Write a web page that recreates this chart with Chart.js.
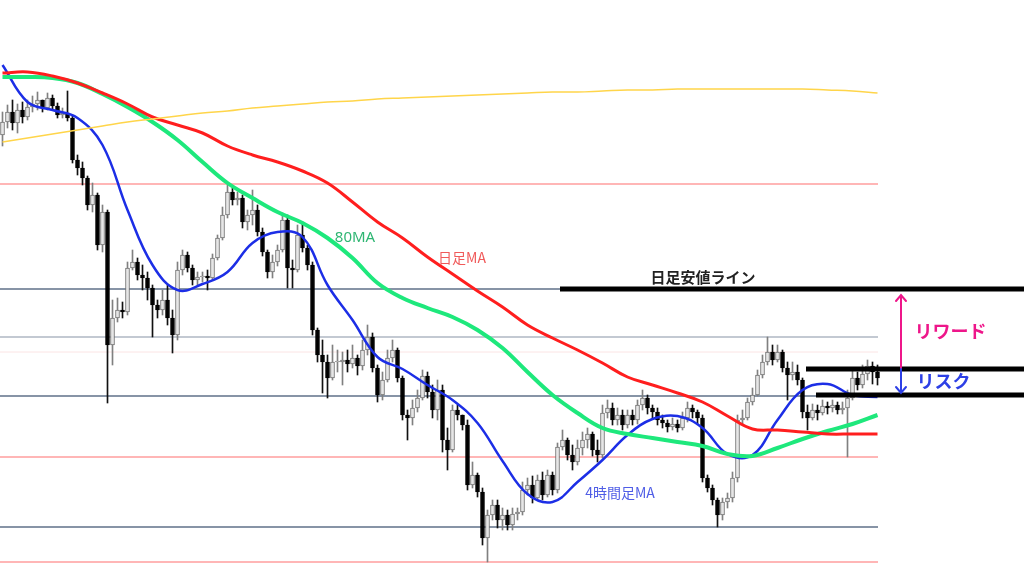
<!DOCTYPE html>
<html>
<head>
<meta charset="utf-8">
<script src="https://cdn.jsdelivr.net/npm/chart.js"></script>
<style>
  html, body { margin: 0; padding: 0; background: #fff; }
  #wrap { width: 1024px; height: 576px; }
</style>
</head>
<body>
<div id="wrap"><canvas id="chart" width="1024" height="576"></canvas></div>
<script>
// 4時間足 candles (open = previous close)
const firstOpen = 110.65;
const closes = [
  110.78, 110.88, 110.77, 110.90, 110.83, 110.93, 110.96, 111.00, 110.92, 111.02,
  110.94, 110.85, 110.87, 110.82, 110.40, 110.32, 110.22, 109.95, 110.05, 109.55,
  109.88, 108.55, 108.82, 108.90, 108.88, 109.32, 109.38, 109.25, 109.22, 109.12,
  108.95, 108.90, 109.00, 108.82, 108.65, 109.30, 109.45, 109.32, 109.20, 109.23,
  109.24, 109.22, 109.42, 109.62, 109.85, 110.08, 110.00, 110.02, 109.78, 109.85,
  109.90, 109.68, 109.48, 109.28, 109.38, 109.50, 109.80, 109.32, 109.30, 109.65,
  109.52, 109.35, 108.70, 108.45, 108.38, 108.22, 108.38, 108.38, 108.40, 108.36,
  108.42, 108.34, 108.50, 108.63, 108.32, 108.05, 108.20, 108.42, 108.50, 108.22,
  107.85, 107.82, 107.92, 108.02, 108.24, 108.08, 107.90, 108.10, 107.60, 107.50,
  107.90, 107.85, 107.75, 107.15, 107.25, 107.08, 106.62, 106.85, 106.95, 106.80,
  106.85, 106.75, 106.86, 106.88, 107.10, 107.15, 107.02, 107.20, 107.05, 107.25,
  107.10, 107.53, 107.60, 107.45, 107.38, 107.52, 107.60, 107.66, 107.50, 107.45,
  107.87, 107.92, 107.80, 107.85, 107.75, 107.85, 107.80, 107.95, 108.02, 107.92,
  107.88, 107.80, 107.77, 107.73, 107.76, 107.72, 107.82, 107.92, 107.88, 107.82,
  107.22, 107.12, 107.00, 106.85, 106.98, 107.02, 107.22, 107.80, 107.82, 107.98,
  108.05, 108.25, 108.38, 108.48, 108.40, 108.48, 108.32, 108.25, 108.28, 108.20,
  107.88, 107.82, 107.90, 107.87, 107.94, 107.92, 107.95, 107.90, 107.92, 108.02,
  108.22, 108.15, 108.26, 108.34, 108.28, 108.22
];
const highs = [
  110.88, 110.95, 111.00, 110.96, 110.98, 111.00, 111.04, 111.08, 111.00, 111.07,
  111.05, 110.97, 110.92, 111.09, 110.85, 110.45, 110.38, 110.24, 110.17, 110.07,
  109.95, 109.90, 109.00, 109.02, 108.98, 109.38, 109.50, 109.42, 109.35, 109.28,
  109.15, 109.00, 109.10, 109.15, 108.90, 109.38, 109.50, 109.48, 109.35, 109.28,
  109.28, 109.30, 109.46, 109.65, 109.93, 110.15, 110.12, 110.08, 110.05, 109.90,
  110.10, 109.95, 109.72, 109.50, 109.45, 109.55, 109.87, 109.85, 109.40, 109.75,
  109.78, 109.55, 109.38, 108.72, 108.60, 108.45, 108.55, 108.50, 108.48, 108.50,
  108.55, 108.45, 108.60, 108.75, 108.67, 108.35, 108.28, 108.50, 108.60, 108.52,
  108.24, 107.90, 108.00, 108.10, 108.30, 108.28, 108.15, 108.20, 108.15, 107.72,
  107.95, 107.95, 107.85, 107.80, 107.38, 107.27, 107.12, 106.90, 107.00, 107.00,
  106.92, 106.90, 106.92, 106.92, 107.18, 107.22, 107.24, 107.25, 107.28, 107.30,
  107.28, 107.57, 107.70, 107.62, 107.55, 107.60, 107.68, 107.72, 107.68, 107.60,
  107.95, 108.00, 107.97, 107.92, 107.90, 107.90, 107.90, 108.00, 108.10, 108.05,
  107.95, 107.92, 107.85, 107.80, 107.82, 107.80, 107.88, 107.98, 107.95, 107.90,
  107.85, 107.25, 107.15, 107.02, 107.02, 107.07, 107.28, 107.85, 107.90, 108.02,
  108.12, 108.30, 108.45, 108.63, 108.55, 108.55, 108.50, 108.38, 108.38, 108.35,
  108.22, 107.95, 107.96, 107.95, 108.00, 107.98, 108.00, 107.98, 107.98, 108.10,
  108.30, 108.28, 108.35, 108.40, 108.38, 108.35
];
const lows = [
  110.54, 110.72, 110.70, 110.67, 110.77, 110.80, 110.88, 110.90, 110.88, 110.90,
  110.90, 110.82, 110.82, 110.79, 110.37, 110.25, 110.15, 109.90, 109.88, 109.50,
  109.48, 107.97, 108.35, 108.78, 108.82, 108.85, 109.30, 109.20, 109.10, 109.00,
  108.63, 108.82, 108.85, 108.75, 108.47, 108.60, 109.25, 109.28, 109.15, 109.15,
  109.18, 109.10, 109.20, 109.40, 109.60, 109.82, 109.95, 109.95, 109.72, 109.70,
  109.75, 109.64, 109.44, 109.22, 109.22, 109.34, 109.48, 109.12, 109.12, 109.28,
  109.48, 109.30, 108.65, 108.38, 108.07, 108.02, 108.20, 108.28, 108.15, 108.28,
  108.32, 108.25, 108.30, 108.45, 108.28, 107.98, 108.00, 108.18, 108.38, 108.18,
  107.80, 107.60, 107.75, 107.88, 108.00, 108.02, 107.82, 107.80, 107.48, 107.30,
  107.48, 107.80, 107.70, 107.10, 107.12, 107.03, 106.55, 106.38, 106.80, 106.72,
  106.70, 106.70, 106.70, 106.80, 106.85, 107.05, 106.97, 107.00, 107.00, 107.03,
  107.05, 107.07, 107.50, 107.40, 107.30, 107.35, 107.45, 107.52, 107.44, 107.38,
  107.42, 107.82, 107.75, 107.75, 107.70, 107.72, 107.75, 107.76, 107.90, 107.86,
  107.82, 107.75, 107.72, 107.68, 107.70, 107.68, 107.70, 107.78, 107.82, 107.76,
  107.18, 107.08, 106.95, 106.73, 106.80, 106.92, 106.98, 107.18, 107.75, 107.80,
  107.95, 108.04, 108.22, 108.35, 108.35, 108.38, 108.28, 108.00, 108.20, 108.15,
  107.82, 107.70, 107.80, 107.80, 107.85, 107.86, 107.88, 107.86, 107.86, 107.43,
  108.00, 108.10, 108.12, 108.20, 108.16, 108.15
];

// moving averages, read every 5 candles
const maIndex = [
  0, 5, 10, 15, 20, 25, 30, 35, 40, 45, 50, 55, 60, 65, 70, 75, 80, 85,
  90, 95, 100, 105, 110, 115, 120, 125, 130, 135, 140, 145, 150, 155, 160, 165, 170, 175
];
const dailyMa = [
  111.27, 111.28, 111.24, 111.17, 111.07, 110.96, 110.83, 110.75, 110.67, 110.54, 110.45, 110.38,
  110.29, 110.17, 109.98, 109.78, 109.62, 109.43, 109.26, 109.09, 108.93, 108.75, 108.62, 108.50,
  108.37, 108.23, 108.15, 108.07, 107.98, 107.84, 107.71, 107.70, 107.68, 107.66, 107.66, 107.66
];
const ma80 = [
  111.23, 111.23, 111.22, 111.17, 111.06, 110.93, 110.78, 110.60, 110.38, 110.17, 110.02, 109.88,
  109.77, 109.62, 109.42, 109.17, 109.02, 108.92, 108.83, 108.70, 108.52, 108.28, 108.05, 107.87,
  107.72, 107.66, 107.62, 107.58, 107.54, 107.46, 107.44, 107.52, 107.61, 107.69, 107.76, 107.85
];
const ma4h = [
  111.35, 110.98, 110.90, 110.82, 110.55, 109.90, 109.35, 109.10, 109.16, 109.28, 109.57, 109.68,
  109.63, 109.15, 108.80, 108.43, 108.31, 108.15, 108.00, 107.77, 107.39, 107.06, 106.98, 107.18,
  107.40, 107.65, 107.81, 107.84, 107.72, 107.46, 107.45, 107.80, 108.10, 108.16, 108.05, 108.03
];
const longMa = [
  110.58, 110.62, 110.66, 110.70, 110.74, 110.78, 110.81, 110.84, 110.87, 110.89, 110.92, 110.94,
  110.96, 110.98, 110.99, 111.01, 111.02, 111.03, 111.04, 111.05, 111.06, 111.07, 111.08, 111.08,
  111.09, 111.10, 111.10, 111.11, 111.11, 111.11, 111.11, 111.11, 111.11, 111.10, 111.09, 111.07
];

// horizontal levels
const redLevels = [110.16, 107.43, 106.38];
const grayLevels = [109.11, 108.63, 108.04, 106.73];
const faintLevels = [108.48];
const dailyLow = 109.11;
const entryLevel = 108.31;
const stopLevel = 108.05;
const rewardTop = 109.05;

const labels = [
  { text: '80MA', x: 70.5, y: 109.62, color: '#2fb673', font: '15px "Noto Sans"' },
  { text: '日足MA', x: 91.9, y: 109.42, color: '#f05a5a', font: '14px "Noto Sans CJK JP"' },
  { text: '4時間足MA', x: 123.5, y: 107.07, color: '#4f5de6', font: '14px "Noto Sans CJK JP"' },
  { text: '日足安値ライン', x: 140.1, y: 109.23, color: '#222', font: 'bold 15px "Noto Sans CJK JP"' },
  { text: 'リワード', x: 189.6, y: 108.69, color: '#ee168a', font: 'bold 18px "Noto Sans CJK JP"' },
  { text: 'リスク', x: 188.2, y: 108.19, color: '#2d40e6', font: 'bold 18px "Noto Sans CJK JP"' }
];

const lastX = 175.1;
const rightX = 205;
const arrowX = 179.7;

const opens = closes.map((c, i) => (i === 0 ? firstOpen : closes[i - 1]));
const up = closes.map((c, i) => c >= opens[i]);

const hLine = (level, color, width, from, order) => ({
  type: 'line',
  data: [{ x: from, y: level }, { x: lastX, y: level }],
  borderColor: color,
  borderWidth: width,
  pointRadius: 0,
  order: order
});

const maLine = (values, color, width) => ({
  type: 'line',
  data: maIndex.map((x, i) => ({ x: x, y: values[i] })),
  borderColor: color,
  borderWidth: width,
  pointRadius: 0,
  tension: 0.4,
  order: 1
});

const datasets = [];
redLevels.forEach(l => datasets.push(hLine(l, '#ff6f6f', 1.2, -0.5, 20)));
grayLevels.forEach(l => datasets.push(hLine(l, '#8794a6', l === 108.63 ? 1.2 : 2, -0.5, 20)));
faintLevels.forEach(l => datasets.push(hLine(l, '#fbe4e4', 1, -0.5, 20)));

datasets.push({
  type: 'bar',
  data: closes.map((c, i) => ({ x: i, y: [lows[i], highs[i]] })),
  backgroundColor: up.map(u => (u ? '#808080' : '#111')),
  barThickness: 1,
  grouped: false,
  order: 10
});
datasets.push({
  type: 'bar',
  data: closes.map((c, i) => ({ x: i, y: [Math.min(opens[i], c), Math.max(opens[i], c)] })),
  backgroundColor: up.map(u => (u ? '#e6e6e6' : '#000')),
  borderColor: up.map(u => (u ? '#707070' : '#000')),
  borderWidth: 1,
  borderSkipped: false,
  barThickness: 4,
  minBarLength: 1,
  grouped: false,
  order: 9
});

datasets.push(maLine(longMa, '#ffd54a', 1.5));
datasets.push(maLine(dailyMa, '#ff1e1e', 3));
datasets.push(maLine(ma80, '#1ee87c', 4));
datasets.push(maLine(ma4h, '#1c2ee6', 2.5));

// black thick lines
datasets.push({ type: 'line', data: [{ x: 111.5, y: dailyLow }, { x: rightX, y: dailyLow }], borderColor: '#000', borderWidth: 5, pointRadius: 0, order: 0 });
datasets.push({ type: 'line', data: [{ x: 160.7, y: entryLevel }, { x: rightX, y: entryLevel }], borderColor: '#000', borderWidth: 5, pointRadius: 0, order: 0 });
datasets.push({ type: 'line', data: [{ x: 162.7, y: stopLevel }, { x: rightX, y: stopLevel }], borderColor: '#000', borderWidth: 5, pointRadius: 0, order: 0 });

const notes = {
  id: 'notes',
  afterDatasetsDraw(chart) {
    const { ctx, scales: { x, y } } = chart;
    const ax = x.getPixelForValue(arrowX);
    const yTop = y.getPixelForValue(rewardTop);
    const yMid = y.getPixelForValue(entryLevel);
    const yBot = y.getPixelForValue(stopLevel) - 2;
    ctx.save();
    ctx.lineWidth = 2;
    ctx.lineCap = 'round';
    // reward arrow
    ctx.strokeStyle = '#ee168a';
    ctx.beginPath();
    ctx.moveTo(ax, yMid);
    ctx.lineTo(ax, yTop);
    ctx.moveTo(ax - 5, yTop + 6);
    ctx.lineTo(ax, yTop);
    ctx.lineTo(ax + 5, yTop + 6);
    ctx.stroke();
    // risk arrow
    ctx.strokeStyle = '#2d40e6';
    ctx.beginPath();
    ctx.moveTo(ax, yMid);
    ctx.lineTo(ax, yBot);
    ctx.moveTo(ax - 5, yBot - 6);
    ctx.lineTo(ax, yBot);
    ctx.lineTo(ax + 5, yBot - 6);
    ctx.stroke();

    ctx.textAlign = 'center';
    ctx.textBaseline = 'middle';
    labels.forEach(l => {
      ctx.font = l.font;
      ctx.fillStyle = l.color;
      ctx.fillText(l.text, x.getPixelForValue(l.x), y.getPixelForValue(l.y));
    });
    ctx.restore();
  }
};

new Chart(document.getElementById('chart'), {
  type: 'bar',
  data: { datasets: datasets },
  options: {
    responsive: false,
    animation: false,
    devicePixelRatio: 1,
    events: [],
    layout: { padding: 0 },
    plugins: { legend: { display: false }, tooltip: { enabled: false } },
    scales: {
      x: { type: 'linear', min: -0.5, max: 204.3, offset: false, display: false },
      y: { type: 'linear', min: 106.24, max: 112.0, display: false }
    }
  },
  plugins: [notes]
});
</script>
</body>
</html>
